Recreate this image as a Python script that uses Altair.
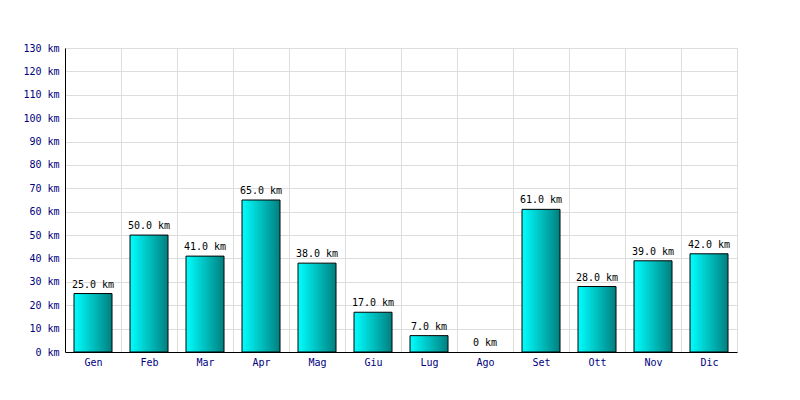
import altair as alt
import pandas as pd

months = ["Gen", "Feb", "Mar", "Apr", "Mag", "Giu", "Lug", "Ago", "Set", "Ott", "Nov", "Dic"]
km = [25.0, 50.0, 41.0, 65.0, 38.0, 17.0, 7.0, 0.0, 61.0, 28.0, 39.0, 42.0]
y_ticks = list(range(0, 131, 10))

df = pd.DataFrame({"month": months, "km": km})

font = "DejaVu Sans Mono"

x = alt.X("month:N", sort=months, title=None,
          scale=alt.Scale(paddingInner=0, paddingOuter=0),
          axis=alt.Axis(tickBand="extent", ticks=False, labelAngle=0, labelColor="#000080",
                        labelFont=font, labelFontSize=10, labelPadding=5,
                        domainColor="black", grid=True, gridColor="#dddddd"))
y = alt.Y("km:Q", title=None,
          scale=alt.Scale(domain=[0, 130], nice=False),
          axis=alt.Axis(values=y_ticks, ticks=False, labelOverlap=False,
                        labelExpr="datum.value + ' km'",
                        labelColor="#000080", labelFont=font, labelFontSize=10,
                        labelPadding=6, domainColor="black", gridColor="#dddddd"))

gradient = alt.Gradient(gradient="linear", x1=0, x2=1, y1=0, y2=0,
                        stops=[alt.GradientStop(color="#00ffff", offset=0),
                               alt.GradientStop(color="#008080", offset=1)])

base = alt.Chart(df).transform_calculate(
    lab="datum.km == 0 ? '0 km' : format(datum.km, '.1f') + ' km'"
).encode(x=x, y=y)

bars = base.mark_bar(color=gradient, stroke="black", strokeWidth=1, width=38).encode(
    opacity=alt.condition("datum.km > 0", alt.value(1), alt.value(0)))
labels = base.mark_text(font=font, fontSize=10, color="black", dy=-9).encode(text="lab:N")

chart = (bars + labels).properties(
    width=672, height=304,
    autosize=alt.AutoSizeParams(type="none"),
    padding={"left": 57, "top": 40, "right": 55, "bottom": 40},
    background="white",
).configure_view(stroke="#dddddd")

chart.save("out.html", embed_options={"renderer": "svg", "actions": False})
